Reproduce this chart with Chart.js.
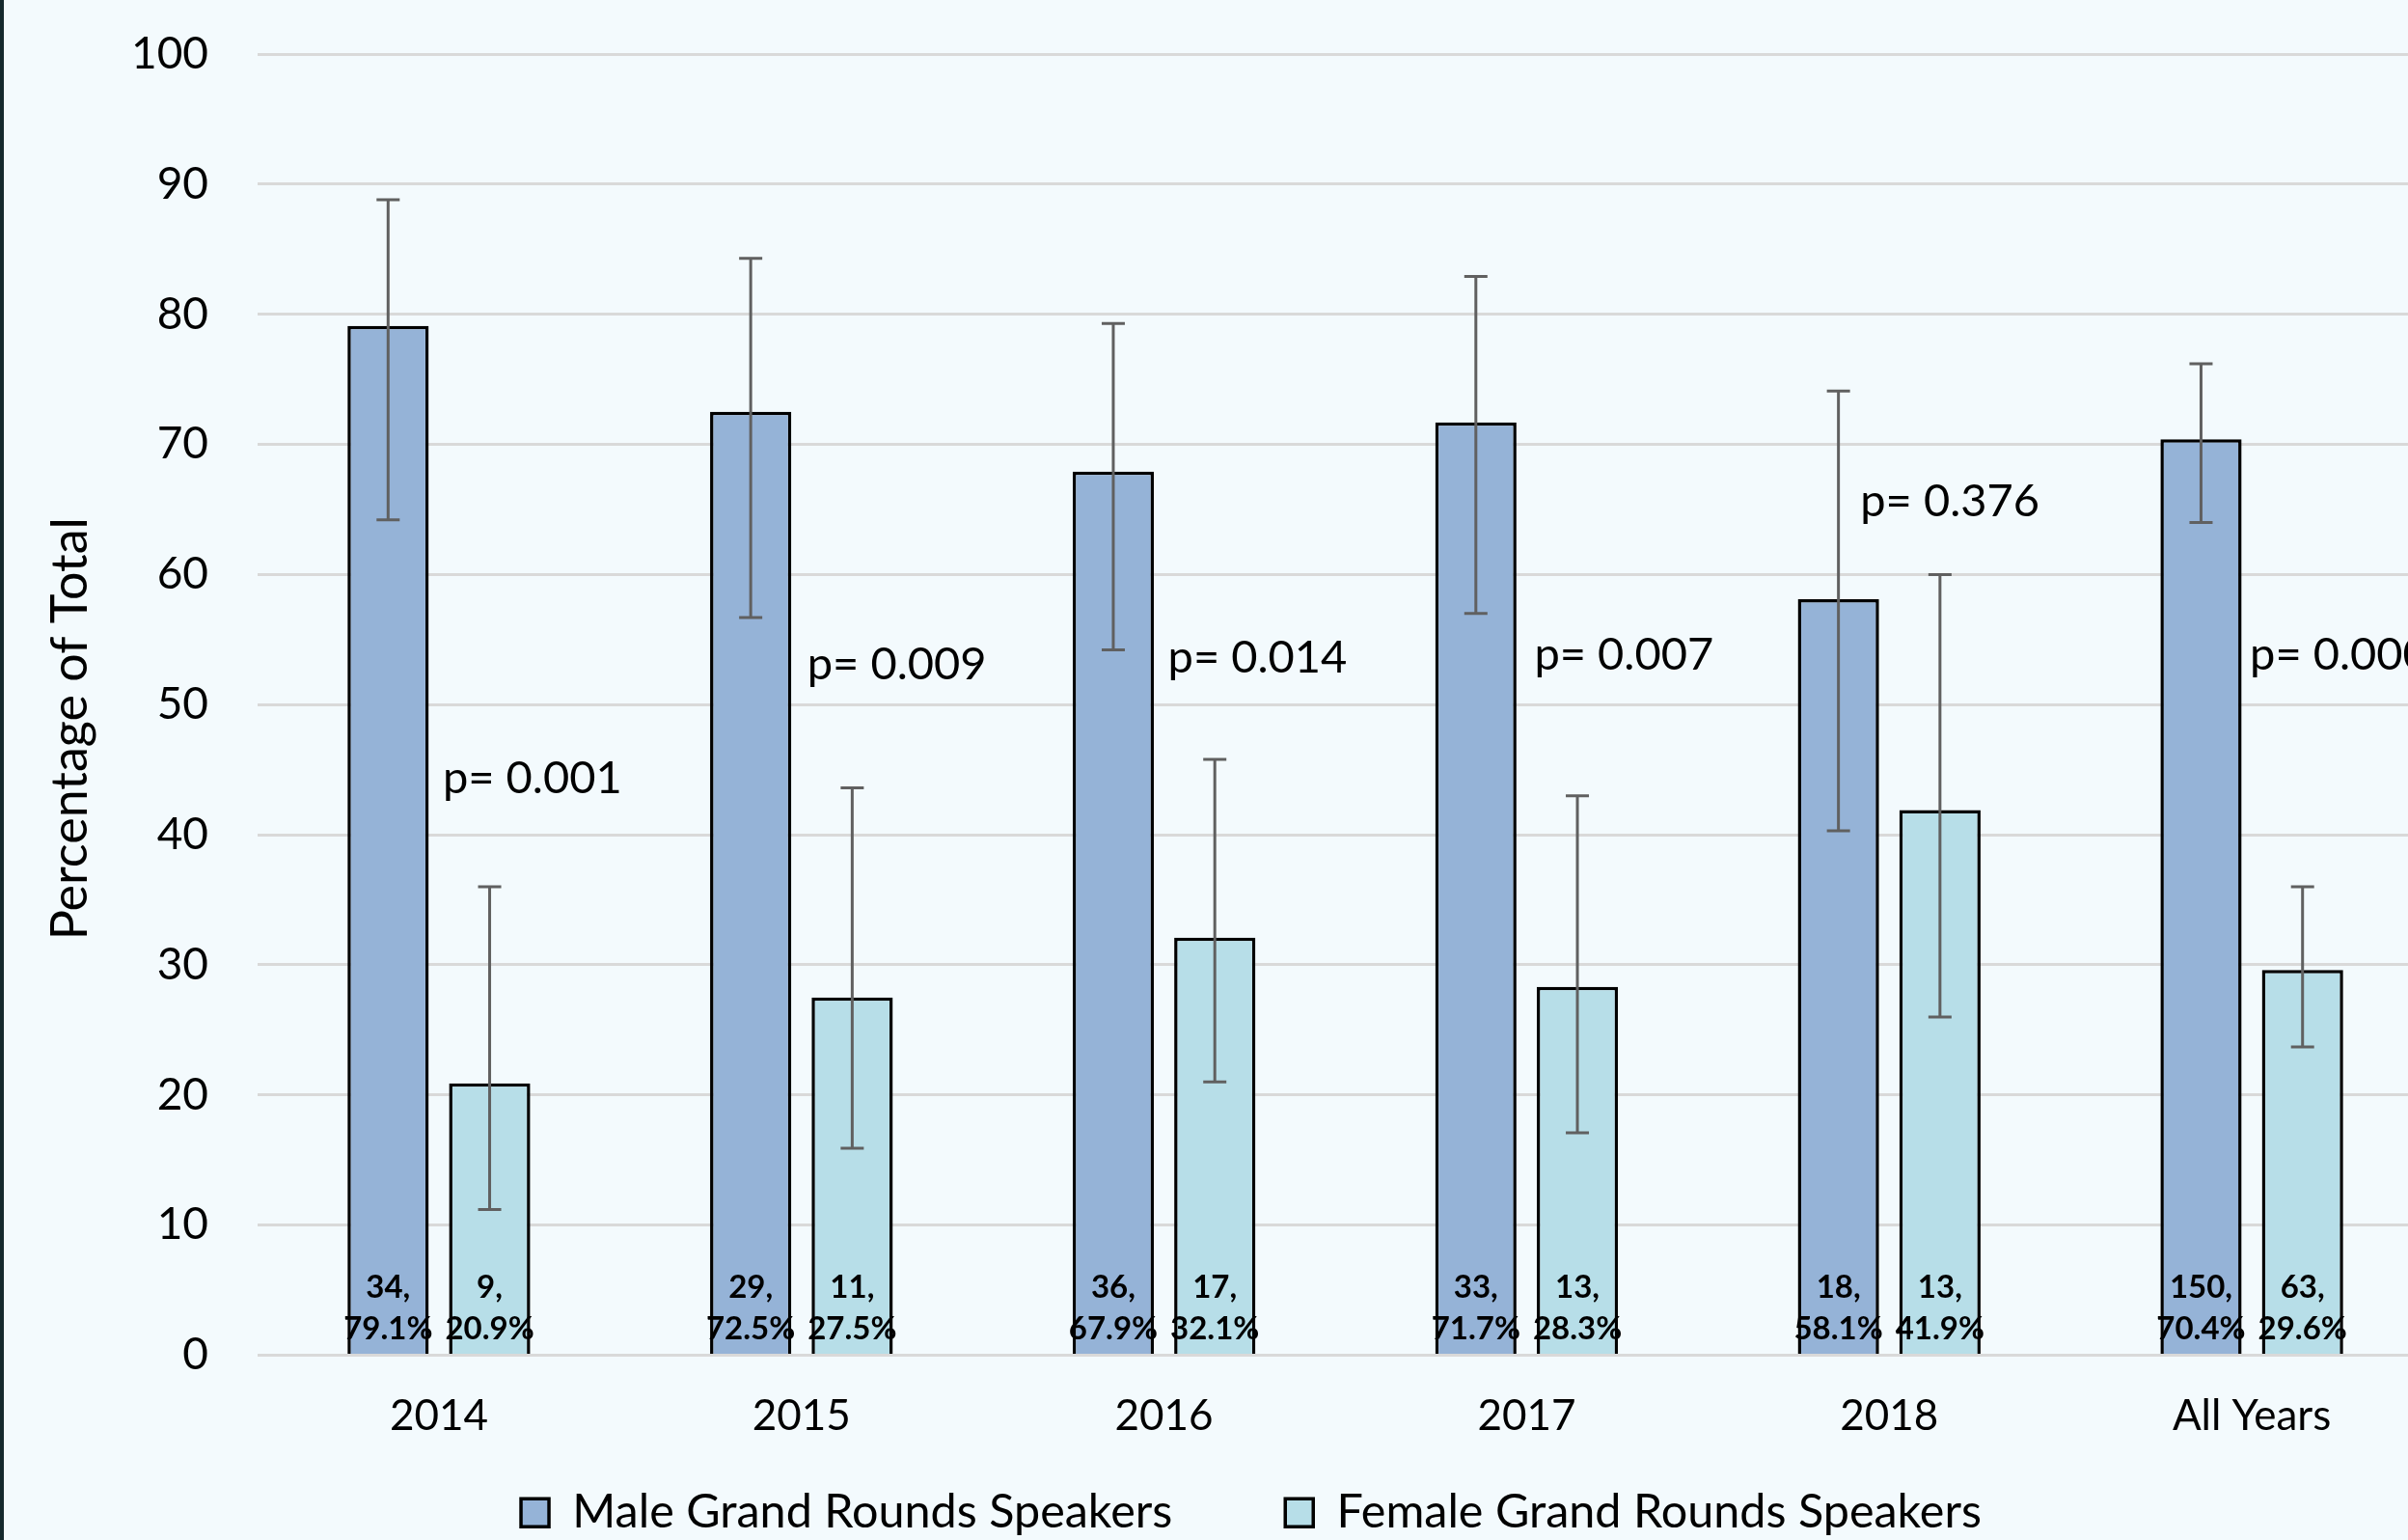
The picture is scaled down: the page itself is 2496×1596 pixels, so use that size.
<!DOCTYPE html>
<html>
<head>
<meta charset="utf-8">
<script src="https://cdn.jsdelivr.net/npm/chart.js@4.4.0/dist/chart.umd.min.js"></script>
<style>
  html, body { margin: 0; padding: 0; overflow: hidden; background: #F3FAFD; }
  #wrap { position: relative; width: 2496px; height: 1596px; overflow: hidden; }
  #wrap::before { content: ''; position: absolute; left: 0; top: 0; width: 4px; height: 100%; background: #14292d; z-index: 2; }
  canvas { display: block; }
</style>
</head>
<body>
<div id="wrap"><canvas id="chart" width="2594" height="1675"></canvas></div>
<script>
// categories and series
const categories = ['2014', '2015', '2016', '2017', '2018', 'All Years'];
const maleCounts = [34, 29, 36, 33, 18, 150];
const femaleCounts = [9, 11, 17, 13, 13, 63];
const malePct = [79.1, 72.5, 67.9, 71.7, 58.1, 70.4];
const femalePct = [20.9, 27.5, 32.1, 28.3, 41.9, 29.6];
// 95% CI ends
const maleLow = [64.2, 56.7, 54.2, 57.0, 40.3, 64.0];
const maleHigh = [88.8, 84.3, 79.3, 82.9, 74.1, 76.2];
const femaleLow = [11.2, 15.9, 21.0, 17.1, 26.0, 23.7];
const femaleHigh = [36.0, 43.6, 45.8, 43.0, 60.0, 36.0];
const pValues = ['p= 0.001', 'p= 0.009', 'p= 0.014', 'p= 0.007', 'p= 0.376', 'p= 0.000'];

// where the p text boxes sit (px offset from category centre, y in axis units)
const pBoxAt = [[4, 44.3], [6, 53.1], [4, 53.6], [8, 53.8], [-30, 65.6], [-2, 53.8]];

Chart.defaults.font.family = 'Lato';
Chart.defaults.color = '#000';

const errorBars = {
    id: 'errorBars',
    afterDatasetsDraw(chart) {
        const ctx = chart.ctx;
        const y = chart.scales.y;
        const ranges = [[maleLow, maleHigh], [femaleLow, femaleHigh]];
        ctx.save();
        ctx.strokeStyle = '#606060';
        ctx.lineWidth = 3;
        ranges.forEach((r, i) => {
            chart.getDatasetMeta(i).data.forEach((bar, j) => {
                const lo = y.getPixelForValue(r[0][j]);
                const hi = y.getPixelForValue(r[1][j]);
                ctx.beginPath();
                ctx.moveTo(bar.x, lo); ctx.lineTo(bar.x, hi);
                ctx.moveTo(bar.x - 12, lo); ctx.lineTo(bar.x + 12, lo);
                ctx.moveTo(bar.x - 12, hi); ctx.lineTo(bar.x + 12, hi);
                ctx.stroke();
            });
        });
        ctx.restore();
    }
};

const barLabels = {
    id: 'barLabels',
    afterDatasetsDraw(chart) {
        const ctx = chart.ctx;
        const base = chart.scales.y.getPixelForValue(0);
        const sets = [[maleCounts, malePct], [femaleCounts, femalePct]];
        ctx.save();
        ctx.font = 'bold 33px Lato';
        ctx.fillStyle = '#000';
        ctx.textAlign = 'center';
        ctx.textBaseline = 'middle';
        sets.forEach((s, i) => {
            chart.getDatasetMeta(i).data.forEach((bar, j) => {
                ctx.fillText(s[0][j] + ',', bar.x, base - 70);
                ctx.fillText(s[1][j].toFixed(1) + '%', bar.x, base - 27);
            });
        });
        ctx.restore();
    }
};

const pLabels = {
    id: 'pLabels',
    afterDatasetsDraw(chart) {
        const ctx = chart.ctx;
        const {x, y} = chart.scales;
        ctx.save();
        ctx.font = '47px Lato';
        ctx.fillStyle = '#000';
        ctx.textAlign = 'left';
        ctx.textBaseline = 'middle';
        pValues.forEach((p, j) => {
            ctx.fillText(p, x.getPixelForValue(j) + pBoxAt[j][0], y.getPixelForValue(pBoxAt[j][1]));
        });
        ctx.restore();
    }
};

// y axis title, sat a little below the middle like the original
const yTitle = {
    id: 'yTitle',
    afterDraw(chart) {
        const ctx = chart.ctx;
        const y = chart.scales.y;
        ctx.save();
        ctx.translate(73, (y.top + y.bottom) / 2 + 25);
        ctx.rotate(-Math.PI / 2);
        ctx.font = '52px Lato';
        ctx.fillStyle = '#000';
        ctx.textAlign = 'center';
        ctx.textBaseline = 'middle';
        ctx.fillText('Percentage of Total', 0, 0);
        ctx.restore();
    }
};

// pull the legend up under the year labels (its wide item spacing makes it tall)
const legendUp = {
    id: 'legendUp',
    afterLayout(chart) {
        chart.legend.top -= 73;
        chart.legend.bottom -= 73;
    }
};

new Chart(document.getElementById('chart'), {
    type: 'bar',
    data: {
        labels: categories,
        datasets: [{
            label: 'Male Grand Rounds Speakers',
            data: malePct,
            backgroundColor: '#95B3D7',
            borderColor: '#000',
            borderWidth: 3.5
        }, {
            label: 'Female Grand Rounds Speakers',
            data: femalePct,
            backgroundColor: '#B7DEE8',
            borderColor: '#000',
            borderWidth: 3.5
        }]
    },
    options: {
        responsive: false,
        animation: false,
        devicePixelRatio: 1,
        categoryPercentage: 0.56,
        barPercentage: 0.8,
        layout: { padding: { left: 0, top: 56, right: 0, bottom: 0 } },
        plugins: {
            tooltip: { enabled: false },
            legend: {
                position: 'bottom',
                labels: {
                    font: { size: 48.5 },
                    boxWidth: 29,
                    boxHeight: 29,
                    padding: 117
                }
            }
        },
        scales: {
            x: {
                grid: { display: false },
                border: { display: false },
                ticks: { font: { size: 44 }, padding: 29 },
                afterFit(s) { s.height = 95; }
            },
            y: {
                min: 0,
                max: 100,
                ticks: { stepSize: 10, font: { size: 46 }, padding: 51 },
                grid: { color: '#D9D9D9', lineWidth: 3, drawTicks: false },
                border: { display: false },
                afterFit(s) {
                    s.width = 267;
                    s.paddingTop = 0;
                    s.paddingBottom = 0;
                }
            },
            y2: {
                position: 'right',
                grid: { display: false },
                border: { display: false },
                ticks: { display: false },
                afterFit(s) { s.width = 72; }
            }
        }
    },
    plugins: [errorBars, barLabels, pLabels, yTitle, legendUp]
});
</script>
</body>
</html>
